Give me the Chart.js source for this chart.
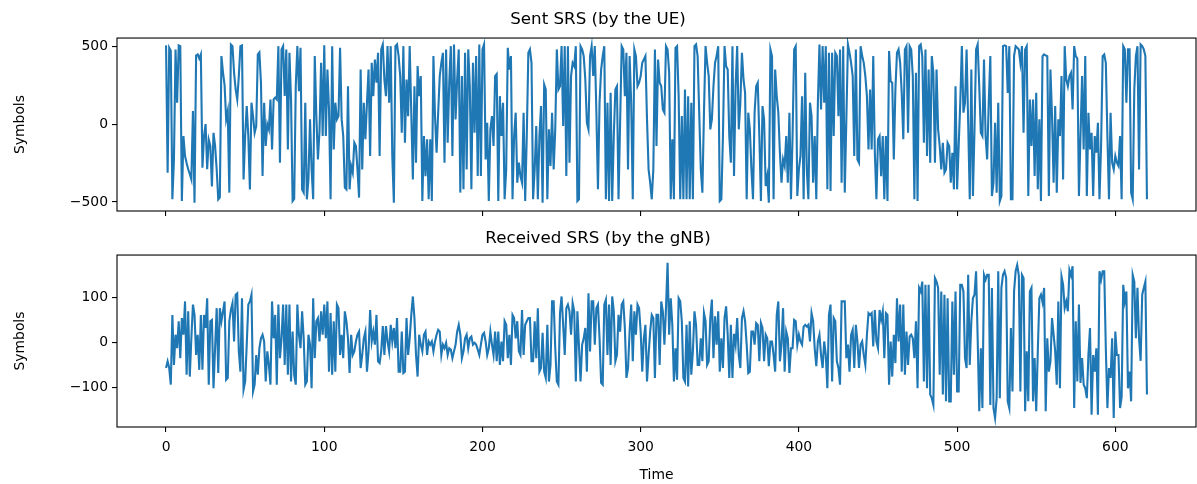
<!DOCTYPE html>
<html><head><meta charset="utf-8">
<script src="https://cdn.jsdelivr.net/npm/chart.js@4.4.1/dist/chart.umd.min.js"></script>
<style>
html,body{margin:0;padding:0;background:#fff;overflow:hidden;}
#w1{position:absolute;left:0;top:0;width:1197px;height:217px;}
#w2{position:absolute;left:0;top:217px;width:1197px;height:267px;}
</style></head><body>
<div id="w1"><canvas id="c1"></canvas></div>
<div id="w2"><canvas id="c2"></canvas></div>
<script>
const sent = [
505,-312,490,470,-483,-227,478,137,505,500,-494,-77,-205,-250,-290,-320,-355,83,-505,440,
447,420,447,-280,-77,0,-290,-100,-140,-400,-56,-140,-290,-483,-470,436,330,250,30,83,
-440,510,500,329,222,158,307,500,505,-355,-77,115,-77,-420,137,50,-56,-13,447,460,
265,-333,137,-140,0,-35,158,-163,158,170,158,500,-248,478,500,180,478,-163,457,158,
-494,-480,244,500,210,490,-420,-440,137,-483,-355,30,-290,-483,436,50,-227,-45,393,-77,
505,
-77,350,94,-483,500,-163,137,30,51,489,30,-77,-408,-419,243,-419,-269,-312,-120,-141,
-291,-472,350,-291,137,-98,137,350,-205,393,179,414,265,457,-205,479,511,286,179,500,
137,500,-205,-505,500,511,436,308,-56,500,-120,286,51,500,73,-355,243,-248,372,179,
308,-494,-77,-334,-98,-483,-98,-494,436,51,-184,73,308,393,457,-248,479,-120,265,500,
-205,511,30,286,479,-440,308,-419,457,-291,479,243,-419,393,-56,436,-334,511,-334,479,
511,-227,8,-494,
-34,51,-141,308,321,-494,179,-77,137,-483,-291,489,350,436,-483,-77,73,-376,-248,-334,
-376,73,-494,-77,457,479,393,-483,-291,-13,-483,-77,115,-505,254,222,-483,-34,-269,73,
-291,-34,479,222,243,500,-13,500,-334,500,-248,308,393,372,500,-494,-483,500,479,436,
286,8,-34,436,500,308,500,73,-419,137,350,436,500,-483,137,-494,200,-494,-77,222,
243,-483,8,500,479,179,457,-291,436,137,-483,479,436,243,265,308,393,414,436,30,
-291,-376,-483,-291,
479,-141,414,265,243,94,73,500,479,329,-483,-98,-483,489,500,179,-483,51,-483,222,
-483,179,-483,137,-483,500,511,436,73,-291,-440,73,500,393,308,-34,30,243,393,436,
500,-494,-483,-77,500,372,350,-77,-248,500,-334,243,500,-34,137,457,286,200,-483,73,
-34,-291,-483,73,243,265,-77,-494,115,30,-398,-334,-505,479,436,-483,350,179,73,-184,
-376,-227,-269,-77,-376,73,-483,-77,479,500,-462,-291,-205,179,-483,329,-291,-483,137,51,
-376,-77,-483,137,
511,94,500,137,500,-419,457,-430,457,-77,457,436,51,479,-376,500,-440,30,511,457,
393,308,-205,479,-227,-248,500,436,393,308,179,-163,222,-163,436,-184,-483,-98,-77,-334,
-77,-483,-77,-494,468,275,265,-227,222,457,479,393,200,-98,479,500,-56,500,479,308,
-483,329,-494,500,511,436,-120,479,-205,350,-248,436,329,-248,350,-34,-141,-291,-120,-312,
-291,-120,-141,-376,-184,-419,243,-419,-141,137,500,73,137,479,8,-483,350,-462,-34,479,
511,243,-56,-77,
414,-77,-227,137,436,-462,-376,8,-440,137,-494,-462,500,505,500,200,500,-483,-483,436,
500,490,479,393,500,-56,479,500,-462,158,-141,158,-334,200,-419,30,-494,436,447,440,
436,-462,350,51,-376,115,-440,30,-77,308,-355,500,286,243,308,329,94,500,436,420,
-462,-77,308,-163,436,-462,73,-163,-56,-462,-77,-184,8,-483,-141,436,447,393,-77,-483,
73,-248,-291,-205,-248,-269,-77,-483,500,480,137,479,479,-440,-483,222,436,500,-291,511,
500,479,436,-483
];
const received = [
-56,-41,-56,-93,62,-49,18,-12,48,-34,55,18,92,-71,70,-75,10,85,62,-27,
18,-60,62,-60,62,33,99,-93,48,51,-101,-12,77,-67,77,48,70,92,-82,-78,
48,73,88,3,107,110,-19,-64,99,-104,-86,-4,85,92,107,-108,-93,-27,-71,-12,
10,18,3,-86,-19,-49,-93,92,10,62,-93,85,-34,10,85,-49,85,-71,85,-86,
25,-71,-93,85,18,-12,70,10,-93,-86,18,-4,-101,99,-34,48,55,3,70,18,
85,
10,92,-64,66,-71,48,-64,85,77,-27,18,-34,70,48,10,-67,18,-27,-19,3,
18,25,-56,-27,10,25,-64,-19,73,3,25,-4,62,-41,-45,-19,37,-27,37,3,
-19,40,3,33,-12,55,-64,-64,25,-67,-64,55,-27,10,62,103,55,-27,-75,18,
-4,-19,18,25,-27,3,-4,3,-19,3,18,29,25,-27,-4,-12,0,-27,-12,-15,
-34,-19,-4,25,40,18,-34,-19,10,18,-12,10,14,-4,0,-4,-15,-27,-4,18,
22,3,-27,-12,
25,-4,-27,25,-41,25,-49,3,-41,48,40,-34,18,-49,62,55,10,48,-19,-27,
73,-27,40,48,55,55,-41,-41,48,-34,77,-64,-56,22,-64,-78,40,-86,-49,92,
92,-12,-86,-93,66,103,40,-27,77,85,70,18,88,70,-86,70,-8,-86,-4,10,
33,-64,110,-19,92,92,-4,77,85,10,-89,-93,85,96,-27,85,-49,103,70,-41,
-27,62,25,85,92,33,-78,-56,25,85,-41,70,18,85,77,25,-64,10,40,-86,
-27,25,62,55,
-78,62,62,-49,92,70,-4,77,178,18,99,40,-86,-12,-82,99,92,48,-78,-86,
40,-97,48,-71,-19,70,40,-49,-49,10,-41,66,48,-49,-41,55,96,-34,59,-4,
70,-64,10,-56,55,81,18,-78,40,-78,20,-4,55,-27,-56,55,70,48,-4,-67,
-64,25,25,-4,44,40,-41,44,33,-41,18,10,-52,3,3,-27,-64,62,92,-41,
-4,77,-64,25,10,-67,-12,-12,51,48,-4,18,3,-4,36,40,36,40,3,66,
48,-12,-52,3,
18,-27,-56,3,-27,-101,62,85,-86,55,48,-41,-56,-93,92,92,92,-34,-4,-64,
18,29,-56,40,3,-56,-4,3,-27,-49,18,66,62,66,-8,73,3,-12,73,51,
70,-34,66,62,-93,3,-75,18,-45,99,3,85,-64,85,-71,25,-49,14,18,10,
-34,48,-101,122,114,136,-86,129,-101,129,-115,-123,-138,144,136,122,-71,114,-115,107,
-130,99,-130,-130,92,-71,114,-108,-108,129,129,114,-34,-56,151,-49,48,99,107,159,
10,-152,
-12,-145,151,140,151,151,-138,122,-145,-167,-123,159,-123,122,151,159,144,-130,-145,33,
-108,114,159,173,150,-108,151,144,-152,-19,-130,114,122,-130,-34,-152,-19,99,107,90,
122,-152,10,-64,-41,55,18,-19,-93,92,-101,147,129,77,92,70,162,150,170,-145,
48,-86,85,-89,-34,-93,-101,-123,-27,33,-160,-27,-64,-12,-160,159,140,159,159,-12,
-145,-56,-78,10,-167,25,-27,-27,-145,-120,129,92,114,-101,-64,-130,151,136,10,122,
10,-40,107,122,136,-115
];
const xTicks = [0,100,200,300,400,500,600];
const sentTicks = [-500,0,500];
const receivedTicks = [-100,0,100];
const titleTop = "Sent SRS (by the UE)";
const titleBottom = "Received SRS (by the gNB)";
const yLabel = "Symbols";
const xLabel = "Time";

Chart.defaults.font.family = "'DejaVu Sans', sans-serif";
Chart.defaults.font.size = 13.9;
Chart.defaults.color = '#000';

const frame = {
  id: 'frame',
  afterDraw(chart) {
    const {ctx, chartArea: a} = chart;
    ctx.save();
    ctx.strokeStyle = '#000';
    ctx.lineWidth = 1.1;
    ctx.strokeRect(a.left, a.top, a.right - a.left, a.bottom - a.top);
    ctx.restore();
  }
};
const fmt = v => String(v).replace('-', '\u2212');
const gridOpts = {drawOnChartArea: false, drawTicks: true, tickLength: 5, color: '#000', lineWidth: 1.1};

function makeChart(id, values, yTicks, yMin, yMax, title, showX, xHeight, titlePad) {
  return new Chart(document.getElementById(id), {
    type: 'line',
    data: {datasets: [{
      data: values.map((v, i) => ({x: i, y: v})),
      borderColor: '#1f77b4', borderWidth: 2.1, pointRadius: 0, fill: false, tension: 0
    }]},
    options: {
      responsive: true, maintainAspectRatio: false, animation: false, devicePixelRatio: 1,
      layout: {padding: {left: 0, right: 1, top: 0, bottom: 0}},
      plugins: {
        legend: {display: false}, tooltip: {enabled: false},
        title: {display: true, text: title, color: '#000', font: {size: 16.7, weight: 'normal'}, padding: titlePad}
      },
      scales: {
        x: {
          type: 'linear', min: -31, max: 651,
          afterBuildTicks: s => { s.ticks = xTicks.map(v => ({value: v})); },
          ticks: {display: showX, padding: 7, maxRotation: 0, autoSkip: false, callback: fmt},
          grid: gridOpts, border: {display: false},
          title: {display: showX, text: xLabel, padding: {top: 0, bottom: 0}},
          afterFit: s => { s.height = xHeight; }
        },
        y: {
          min: yMin, max: yMax,
          afterBuildTicks: s => { s.ticks = yTicks.map(v => ({value: v})); },
          ticks: {padding: 4, callback: fmt},
          grid: gridOpts, border: {display: false},
          title: {display: true, text: yLabel, padding: {top: 12, bottom: 0}},
          afterFit: s => { s.width = 117; s.paddingTop = 0; s.paddingBottom = 0; }
        }
      }
    },
    plugins: [frame]
  });
}
makeChart('c1', sent, sentTicks, -558, 552, titleTop, false, 6, {top: 10, bottom: 8});
makeChart('c2', received, receivedTicks, -187, 195, titleBottom, true, 57, {top: 12, bottom: 6});
</script>
</body></html>
